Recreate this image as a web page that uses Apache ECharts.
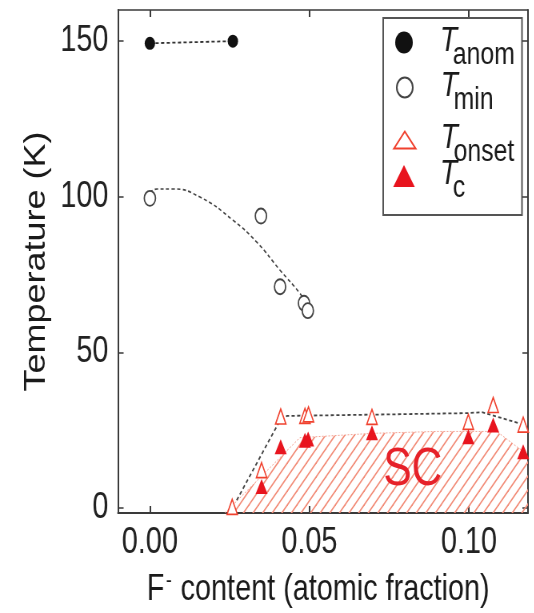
<!DOCTYPE html>
<html>
<head>
<meta charset="utf-8">
<script src="https://cdn.jsdelivr.net/npm/echarts@6/dist/echarts.min.js"></script>
<style>
  html, body { margin: 0; padding: 0; background: #fff; overflow: hidden; }
  /* drawn wide, then condensed horizontally */
  #chart { width: 668px; height: 613px; transform: scaleX(0.8); transform-origin: 0 0; }
</style>
</head>
<body>
<div id="chart"></div>
<script>
// Phase diagram: temperature vs F- content
const tAnom = [[0.000, 149.3], [0.026, 150.0]];
const tMin = [[0.000, 99.5], [0.0348, 93.8], [0.0408, 71.1], [0.0483, 65.8], [0.0495, 63.4]];
const tOnset = [[0.0258, 0.4], [0.035, 12.2], [0.041, 29.4], [0.0486, 29.6], [0.0497, 30.1],
                [0.0696, 29.3], [0.0998, 27.7], [0.1076, 33.1], [0.1170, 26.8]];
const tC = [[0.035, 6.9], [0.041, 19.7], [0.0486, 21.8], [0.0496, 22.2], [0.0696, 24.2],
            [0.0998, 22.9], [0.1076, 26.7], [0.1170, 18.1]];
// guide curves
const tMinGuide = [[0.000, 101.3], [0.0022, 102.5], [0.0069, 102.5], [0.0157, 99.9], [0.026, 92.5],
                   [0.0335, 85.4], [0.0408, 76.4], [0.047, 69.0], [0.0502, 64.2]];
const tOnsetGuide = [[0.0272, 2.5], [0.0408, 28.2], [0.043, 29.6], [0.070, 30.0], [0.100, 30.5],
                     [0.104, 30.8], [0.1155, 27.3]];
// upper edge of the superconducting dome
const scBoundary = [[0.0235, -1.6], [0.047, 22.6], [0.070, 24.0], [0.090, 24.6], [0.1087, 24.6],
                    [0.115, 19.7], [0.1185, 17.2]];
const xTicks = [0, 0.05, 0.10];
const yTicks = [0, 50, 100, 150];
const seriesNames = ['Tanom', 'Tmin', 'Tonset', 'Tc'];
const subscripts = ['anom', 'min', 'onset', 'c'];
const scLabel = { text: 'SC', at: [0.0824, 12.2] };

const FONT = "'Liberation Sans', Arial, sans-serif";
const NARROW = "'Liberation Sans Narrow', 'Arial Narrow', 'Liberation Sans', sans-serif";
const FRAME = '#3a3a3a';
const RED = '#e8141e';
const RED_OPEN = '#f0412e';

function hatchPattern() {
  const w = 12, h = 14;
  const c = document.createElement('canvas');
  c.width = w; c.height = h;
  const g = c.getContext('2d');
  g.strokeStyle = '#f28c78';
  g.lineWidth = 1.6;
  for (let k = -1; k <= 1; k++) {
    g.beginPath();
    g.moveTo(-1, h + k * h + h / w);
    g.lineTo(w + 1, k * h - h / w);
    g.stroke();
  }
  return { image: c, repeat: 'repeat' };
}

const chart = echarts.init(document.getElementById('chart'), null, { renderer: 'canvas' });

const xBase = { type: 'value', min: -0.01, max: 0.1185, splitLine: { show: false } };
const yBase = { type: 'value', min: -1.6, max: 160, splitLine: { show: false } };

// legend rows: each item box is 54 px tall, the icon keeps its aspect inside it
const ROW_H = 54;
const legendIcons = [
  { icon: 'circle', iw: 22, cy: 42.5 },
  { icon: 'circle', iw: 20, cy: 87.5 },
  { icon: 'path://M0,17L13.5,0L27,17Z', iw: 27, cy: 140 },
  { icon: 'path://M0,22L13.5,0L27,22Z', iw: 27, cy: 176 }
];
const legends = seriesNames.map((name, i) => {
  const L = legendIcons[i];
  const left = 505 - L.iw / 2;
  const pl = 40 - L.iw / 2;
  return {
    data: [{ name: name, icon: L.icon }],
    orient: 'vertical',
    left: left,
    top: L.cy - ROW_H / 2 + 7,
    padding: 0,
    itemGap: 0,
    itemWidth: L.iw,
    itemHeight: ROW_H,
    selectedMode: false,
    formatter: () => '{t|T}{s|' + subscripts[i] + '}',
    textStyle: {
      color: '#1a1a1a',
      fontFamily: FONT,
      rich: {
        t: { fontSize: 35, fontStyle: 'italic', fontFamily: FONT, color: '#1a1a1a',
             lineHeight: 40, width: 16, padding: [1, 0, 2, pl], verticalAlign: 'top' },
        s: { fontSize: 31, fontFamily: FONT, color: '#1a1a1a',
             lineHeight: 30, padding: [17, 0, 5, 0], verticalAlign: 'top' }
      }
    }
  };
});

const option = {
  animation: false,
  backgroundColor: '#fff',
  grid: { left: 147.5, right: 8, top: 10, bottom: 100 },
  xAxis: [
    Object.assign({}, xBase, {
      position: 'bottom',
      axisLine: { onZero: false, lineStyle: { color: FRAME, width: 2 } },
      axisTick: { inside: true, length: 7, customValues: xTicks, lineStyle: { color: FRAME, width: 2 } },
      axisLabel: { customValues: xTicks, formatter: v => v.toFixed(2), margin: 12,
                   fontSize: 36, color: '#222', fontFamily: NARROW },
      name: '{a|F}{b|-}{a| content (atomic fraction)}',
      nameLocation: 'middle',
      nameGap: 57,
      nameTextStyle: {
        padding: [0, 12, 0, 0],
        rich: {
          a: { fontSize: 36, fontFamily: FONT, color: '#1a1a1a', lineHeight: 40 },
          b: { fontSize: 22, fontFamily: FONT, color: '#1a1a1a', lineHeight: 22,
               verticalAlign: 'top', padding: [0, 1, 0, 2] }
        }
      }
    }),
    Object.assign({}, xBase, {
      position: 'top',
      axisLine: { onZero: false, lineStyle: { color: FRAME, width: 1.5 } },
      axisTick: { inside: true, length: 7, customValues: xTicks, lineStyle: { color: FRAME, width: 2 } },
      axisLabel: { show: false }
    })
  ],
  yAxis: [
    Object.assign({}, yBase, {
      position: 'left',
      axisLine: { onZero: false, lineStyle: { color: FRAME, width: 2 } },
      axisTick: { inside: true, length: 7, customValues: yTicks, lineStyle: { color: FRAME, width: 1.5 } },
      axisLabel: { customValues: yTicks, margin: 12, fontSize: 36, color: '#222', fontFamily: NARROW },
      name: 'Temperature (K)',
      nameLocation: 'middle',
      nameGap: 75,
      nameTextStyle: { fontSize: 36, fontFamily: FONT, color: '#1a1a1a' }
    }),
    Object.assign({}, yBase, {
      position: 'right',
      axisLine: { onZero: false, lineStyle: { color: FRAME, width: 2 } },
      axisTick: { inside: true, length: 7, customValues: yTicks, lineStyle: { color: FRAME, width: 1.5 } },
      axisLabel: { show: false }
    })
  ],
  legend: legends,
  graphic: [],
  series: [
    {
      name: 'SC', type: 'line', data: scBoundary, showSymbol: false, z: 1,
      lineStyle: { color: '#f4a090', width: 1, type: [2, 2] },
      areaStyle: { color: hatchPattern(), origin: 'start', opacity: 1 }
    },
    {
      name: 'TminGuide', type: 'line', data: tMinGuide, showSymbol: false, smooth: true, z: 2,
      lineStyle: { color: '#444', width: 1.6, type: [4, 3] }
    },
    {
      name: 'TonsetGuide', type: 'line', data: tOnsetGuide, showSymbol: false, z: 2,
      lineStyle: { color: '#444', width: 1.8, type: [4, 3] }
    },
    {
      name: 'TanomGuide', type: 'line', data: tAnom, showSymbol: false, z: 2,
      lineStyle: { color: '#333', width: 1.8, type: [4, 3] }
    },
    {
      name: 'Tanom', type: 'scatter', data: tAnom, symbol: 'circle', symbolSize: [13, 13], z: 5,
      itemStyle: { color: '#111', opacity: 1 }
    },
    {
      name: 'Tmin', type: 'scatter', data: tMin, symbol: 'circle', symbolSize: [14, 15], z: 5,
      itemStyle: { color: '#fff', borderColor: '#444', borderWidth: 1.8, opacity: 1 }
    },
    {
      name: 'Tonset', type: 'scatter', data: tOnset, symbol: 'triangle', symbolSize: [13, 15], z: 5,
      itemStyle: { color: '#fff', borderColor: RED_OPEN, borderWidth: 1.6, opacity: 1 }
    },
    {
      name: 'Tc', type: 'scatter', data: tC, symbol: 'triangle', symbolSize: [15, 15], z: 6,
      itemStyle: { color: RED, opacity: 1 }
    }
  ]
};

chart.setOption(option);

// legend frame and the SC region label
const scPos = chart.convertToPixel({ gridIndex: 0 }, scLabel.at);
chart.setOption({
  graphic: [
    {
      type: 'rect', z: -1, zlevel: 0,
      shape: { x: 479, y: 18, width: 173.5, height: 197 },
      style: { fill: '#fff', stroke: '#555', lineWidth: 2 }
    },
    {
      type: 'text', z: 10,
      x: scPos[0], y: scPos[1],
      style: { text: scLabel.text, fill: '#e62129', font: '53px ' + FONT,
               textAlign: 'center', textVerticalAlign: 'middle' }
    }
  ]
});
</script>
</body>
</html>
